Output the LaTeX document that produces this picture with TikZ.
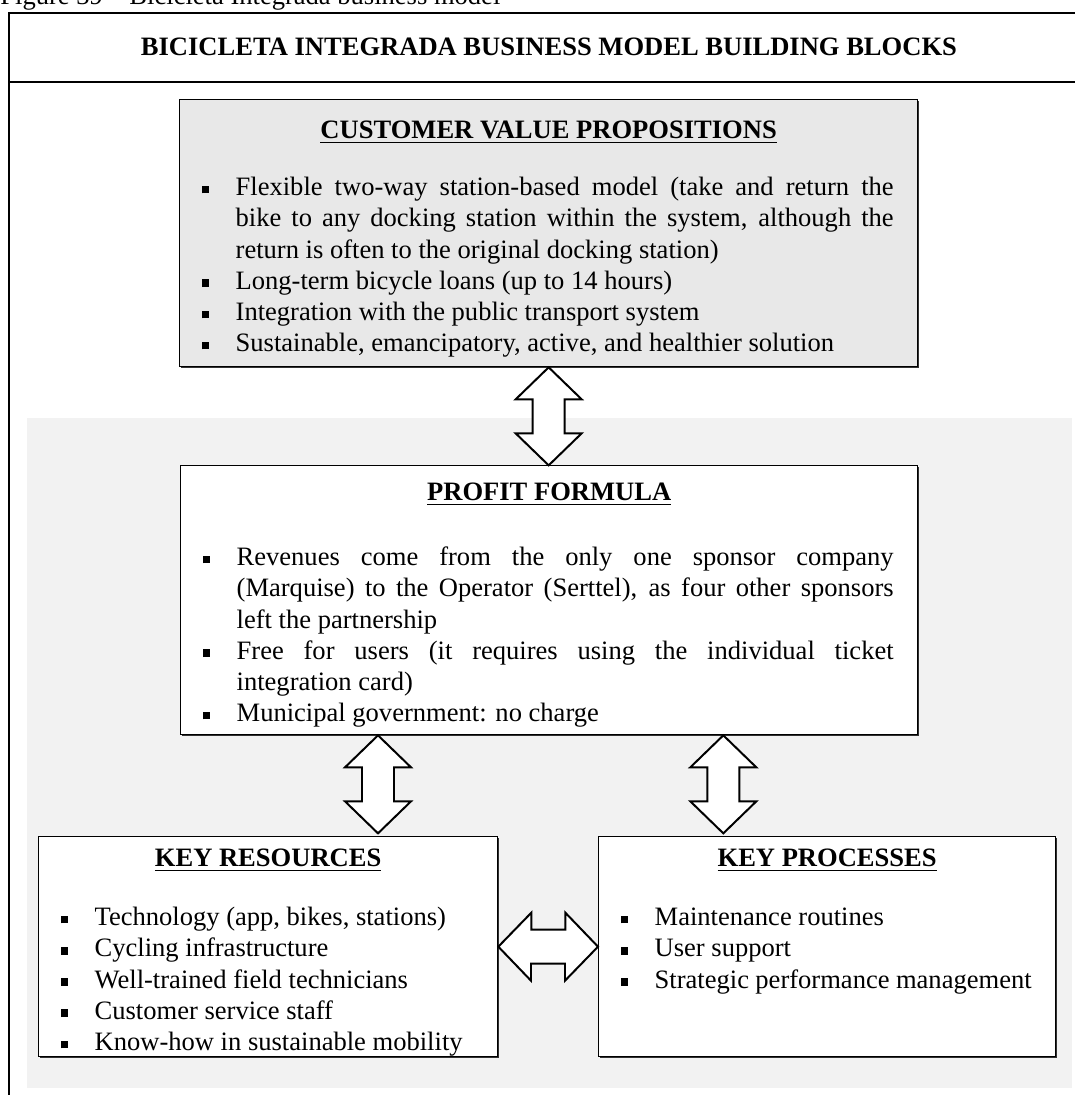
\documentclass[tikz,border=0pt]{standalone}
\usepackage{fontspec}
\setmainfont{Liberation Serif}
\usetikzlibrary{shadows}

\newlength\pxl
\setlength\pxl{0.452pt}
\definecolor{cvpfill}{RGB}{232,232,232}
\definecolor{areafill}{RGB}{242,242,242}

% small square bullet
\newcommand\sqbul{\rule[1.0pt]{3.5pt}{3.5pt}}
% one list entry with hanging indent
\newcommand\entry[1]{\par\noindent\hangindent=56\pxl\hangafter=1
  \hspace*{22\pxl}\makebox[34\pxl][l]{\sqbul}#1}
% box text: width, height, title baseline, gap, title, entries
\newcommand\blocktext[6]{\parbox[t][#2\pxl][t]{#1\pxl}{%
  \parindent=0pt \parskip=0pt \baselineskip=31.2\pxl
  \tolerance=9999 \hyphenpenalty=10000 \exhyphenpenalty=10000
  \noindent\makebox[\linewidth]{\rule{0pt}{#3\pxl}\textbf{\underline{#5}}}\par
  \vspace{#4\pxl}\rightskip=24\pxl
  #6\par}}

\tikzset{
  frameline/.style={line width=0.6pt},
  blockbox/.style={draw, line width=0.6pt, inner sep=0pt, anchor=north west,
    drop shadow={shadow xshift=0.5pt, shadow yshift=-0.5pt, fill=black, opacity=0.8}},
  dblarrow/.style={draw, fill=white, line width=0.9pt, line join=miter}
}

\begin{document}
\begin{tikzpicture}[x=0.452pt, y=-0.452pt, font=\fontsize{12}{14.1}\selectfont]
\useasboundingbox (0,0) rectangle (1075,1095);
\clip (0,0) rectangle (1075,1095);

% caption and outer frame
\node[anchor=base west, inner sep=0pt] (cap) at (0,4) {Figure 39 -- Bicicleta Integrada business model};
\draw[frameline] (1080,13) -- (9,13) -- (9,1100);
\draw[frameline] (9,82) -- (1080,82);
\node[anchor=base, inner sep=0pt, font=\fontsize{12}{14.1}\selectfont\bfseries] (head) at (549,55)
  {BICICLETA INTEGRADA BUSINESS MODEL BUILDING BLOCKS};

% shaded area behind the lower blocks
\fill[areafill] (27,418) rectangle (1072,1088);

% the blocks
\node[blockbox, fill=cvpfill] (cvp) at (179,99) {\blocktext{738}{267}{39}{25.8}{CUSTOMER VALUE PROPOSITIONS}{%
  \entry{Flexible two-way station-based model (take and return the\linebreak bike to any docking station within the system, although the\linebreak return is often to the original docking station)}
  \entry{Long-term bicycle loans (up to 14 hours)}
  \entry{Integration with the public transport system}
  \entry{Sustainable, emancipatory, active, and healthier solution}}};

\node[blockbox, fill=white] (pf) at (180,465) {\blocktext{737}{269}{35}{33.8}{PROFIT FORMULA}{%
  \entry{Revenues come from the only one sponsor company\linebreak (Marquise) to the Operator (Serttel), as four other sponsors\linebreak left the partnership}
  \entry{Free for users (it requires using the individual ticket\linebreak integration card)}
  \entry{Municipal government: no charge}}};

\node[blockbox, fill=white] (res) at (38,836) {\blocktext{459}{220}{30}{27.8}{KEY RESOURCES}{%
  \entry{Technology (app, bikes, stations)}
  \entry{Cycling infrastructure}
  \entry{Well-trained field technicians}
  \entry{Customer service staff}
  \entry{Know-how in sustainable mobility}}};

\node[blockbox, fill=white] (proc) at (598,836) {\blocktext{457}{220}{30}{27.8}{KEY PROCESSES}{%
  \entry{Maintenance routines}
  \entry{User support}
  \entry{Strategic performance management}}};

% double arrows between the blocks
\path (pf.south west) ++(198,0) coordinate (resup);
\path (pf.south east) ++(-195,0) coordinate (procup);
\foreach \p in {cvp.south, resup, procup}
  \draw[dblarrow] (\p) -- ++(33,32) -- ++(-17,0) -- ++(0,34) -- ++(17,0) -- ++(-33,32)
    -- ++(-33,-32) -- ++(17,0) -- ++(0,-34) -- ++(-17,0) -- cycle;
\draw[dblarrow] (res.east) -- ++(33,-34) -- ++(0,17) -- ++(34,0) -- ++(0,-17) -- (proc.west)
  -- ++(-33,34) -- ++(0,-17) -- ++(-34,0) -- ++(0,17) -- cycle;
\end{tikzpicture}
\end{document}
